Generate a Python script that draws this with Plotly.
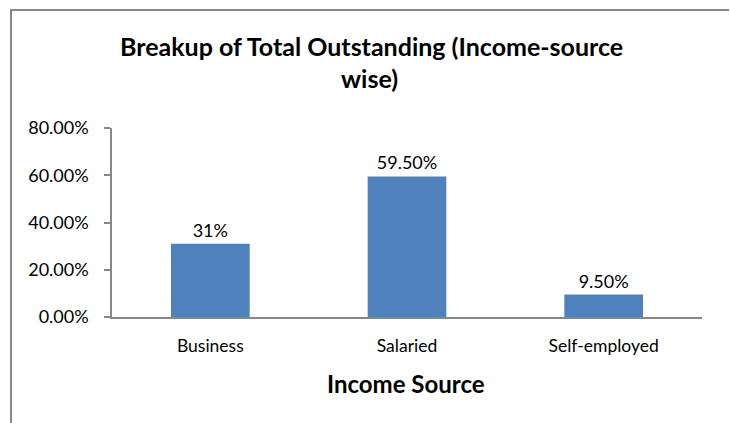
import plotly.graph_objects as go

# Share of total outstanding by income source
categories = ["Business", "Salaried", "Self-employed"]
shares = [0.31, 0.595, 0.095]
share_labels = ["31%", "59.50%", "9.50%"]
y_ticks = [0.0, 0.2, 0.4, 0.6, 0.8]

title_lines = ["Breakup of Total Outstanding (Income-source", "wise)"]
x_title = "Income Source"

W, H = 730, 423
L, R, T, B = 112, 28, 128, 106
plot_w = W - L - R
plot_h = H - T - B


def px_x(px):
    return (px - L) / plot_w


def px_y(py):
    return (H - B - py) / plot_h


FONT = "Lato, Carlito, Calibri, sans-serif"
BAR = "#4F81BD"
AXIS = "#878787"

fig = go.Figure(
    go.Bar(
        x=categories,
        y=shares,
        marker=dict(color=BAR, line=dict(width=0)),
        width=0.4,
        text=share_labels,
        textposition="outside",
        textfont=dict(family=FONT, size=18, color="#000000"),
        cliponaxis=False,
        hoverinfo="skip",
    )
)

# chart frame: only the left and top edges fall inside the page
frame = [
    dict(type="line", xref="paper", yref="paper",
         x0=px_x(11), x1=px_x(11), y0=px_y(10), y1=px_y(H),
         line=dict(color=AXIS, width=2), layer="below"),
    dict(type="line", xref="paper", yref="paper",
         x0=px_x(10), x1=px_x(W - 1), y0=px_y(10), y1=px_y(10),
         line=dict(color=AXIS, width=2), layer="below"),
]

fig.update_layout(
    width=W,
    height=H,
    margin=dict(l=L, r=R, t=T, b=B, pad=0),
    paper_bgcolor="white",
    plot_bgcolor="white",
    showlegend=False,
    font=dict(family=FONT, size=18, color="#000000"),
    xaxis=dict(
        showline=True,
        linecolor=AXIS,
        linewidth=1.5,
        ticks="",
        showgrid=False,
        ticklabelstandoff=12,
        tickfont=dict(family=FONT, size=17.5, color="#000000"),
    ),
    yaxis=dict(
        range=[0, 0.8],
        tickvals=y_ticks,
        tickformat=".2%",
        showline=True,
        linecolor=AXIS,
        linewidth=1.5,
        ticks="outside",
        ticklen=6,
        tickcolor=AXIS,
        tickwidth=1.5,
        showgrid=False,
        zeroline=False,
        ticklabelstandoff=12,
        tickfont=dict(family=FONT, size=18, color="#000000"),
    ),
    shapes=frame,
    annotations=[
        dict(
            text=f"<b>{title_lines[0]}</b>",
            xref="paper",
            yref="paper",
            x=px_x(371),
            y=px_y(46),
            xanchor="center",
            yanchor="middle",
            showarrow=False,
            font=dict(family=FONT, size=25, color="#000000"),
        ),
        dict(
            text=f"<b>{title_lines[1]}</b>",
            xref="paper",
            yref="paper",
            x=px_x(369),
            y=px_y(78),
            xanchor="center",
            yanchor="middle",
            showarrow=False,
            font=dict(family=FONT, size=25, color="#000000"),
        ),
        dict(
            text=f"<b>{x_title}</b>",
            xref="paper",
            yref="paper",
            x=px_x(406),
            y=px_y(383),
            xanchor="center",
            yanchor="middle",
            showarrow=False,
            font=dict(family=FONT, size=24, color="#000000"),
        ),
    ],
)

fig.write_html("out.html")
